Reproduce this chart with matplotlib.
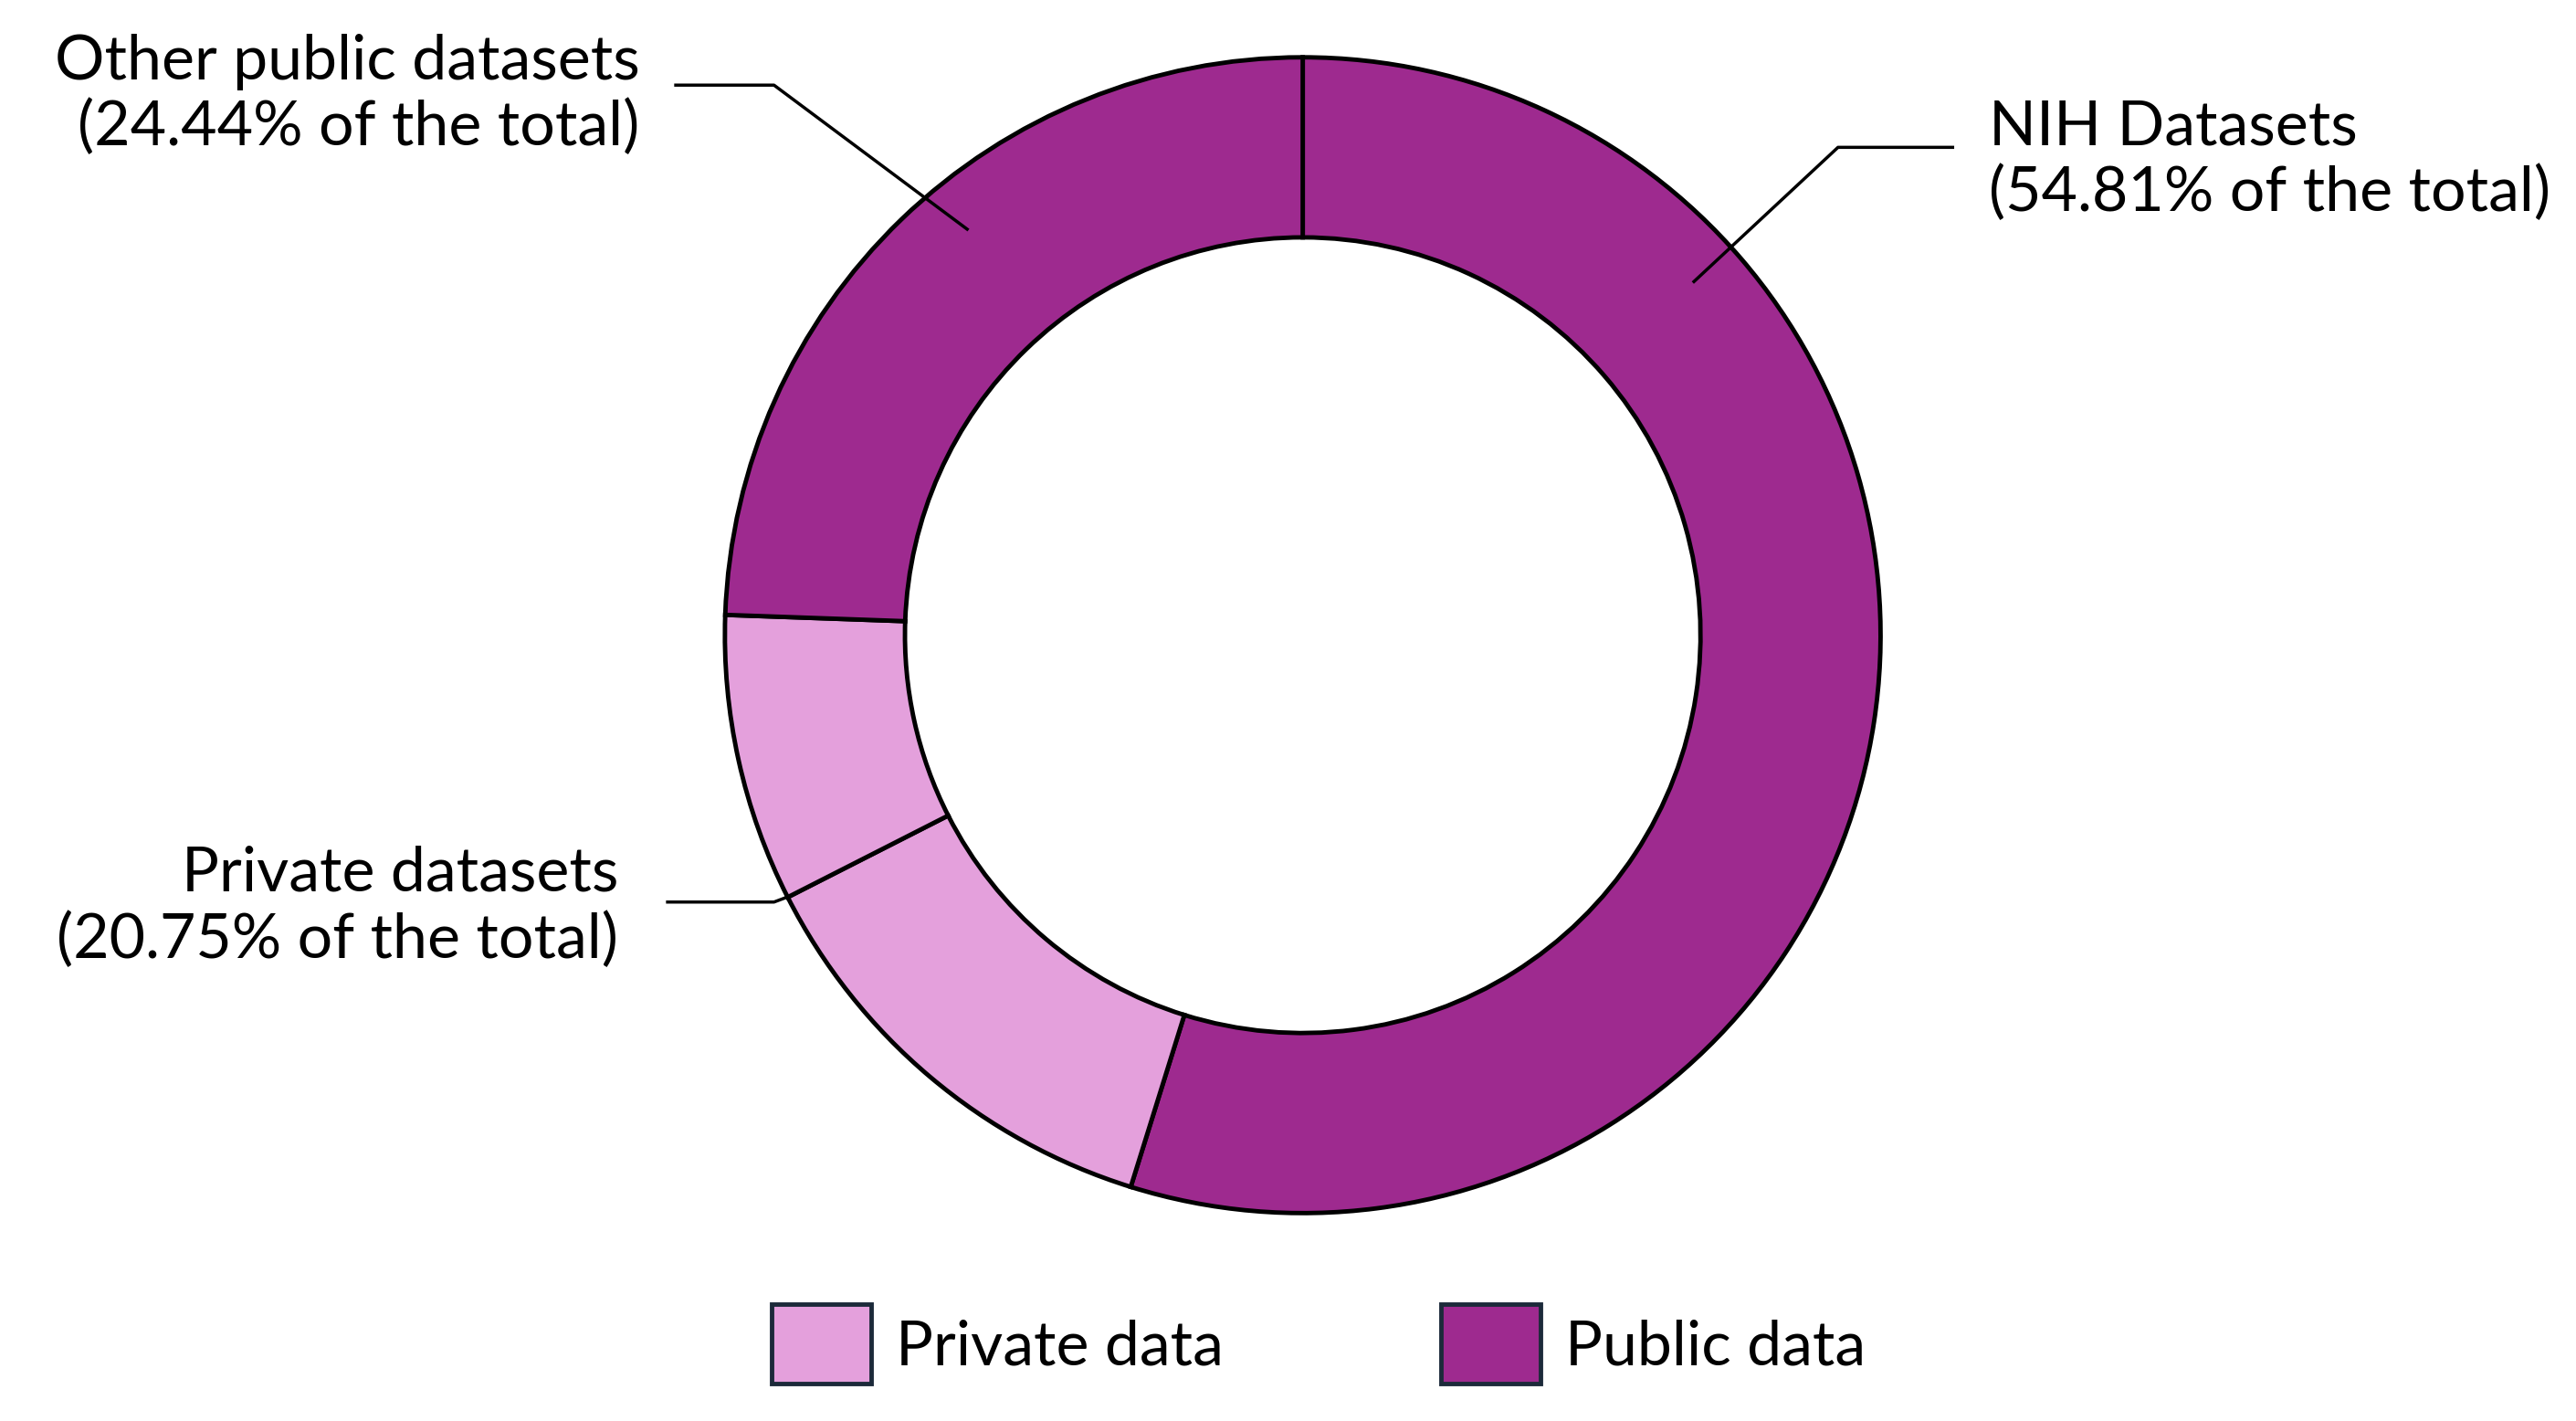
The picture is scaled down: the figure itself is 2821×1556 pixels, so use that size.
import matplotlib
matplotlib.use("Agg")
import matplotlib.pyplot as plt
from matplotlib.patches import Patch

plt.rcParams['font.family'] = ['Lato', 'DejaVu Sans']

# data (percent of total), clockwise from top
wedge_values = [54.81, 12.70, 8.05, 24.44]
wedge_groups = ["Public data", "Private data", "Private data", "Public data"]
group_colors = {"Private data": "#E4A0DC", "Public data": "#9E2A8F"}
labels = ["NIH Datasets\n(54.81% of the total)",
          "Private datasets\n(20.75% of the total)",
          "Other public datasets\n(24.44% of the total)"]

W, H = 1568, 868
fig = plt.figure(figsize=(28.21, 15.56), dpi=100)
ax = fig.add_axes([0, 0, 1, 1])

cx, cy, R = 793, 388, 353
ax.pie(wedge_values, colors=[group_colors[g] for g in wedge_groups],
       startangle=-90, counterclock=True, center=(cx, cy), radius=R,
       wedgeprops=dict(width=110, edgecolor='black', linewidth=3.5),
       frame=True)
ax.set_xlim(0, W); ax.set_ylim(H, 0); ax.set_aspect('equal'); ax.axis('off')

fs = 49
lw = 2.5
# NIH
ax.plot([1190, 1120, 1032], [90, 90, 172], color='black', lw=lw)
ax.text(1212, 98, labels[0], fontsize=fs, ha='left', va='center', linespacing=1.2)
# Other public
ax.plot([410, 470, 588], [52, 52, 140], color='black', lw=lw)
ax.text(388, 58, labels[2], fontsize=fs, ha='right', va='center', linespacing=1.2)
# Private
ax.plot([405, 470, 478], [551, 551, 548], color='black', lw=lw)
ax.text(375, 554, labels[1], fontsize=fs, ha='right', va='center', linespacing=1.2)

handles = [Patch(facecolor=group_colors[g], edgecolor='#1c2a3a', linewidth=3.5, label=g)
           for g in ["Private data", "Public data"]]
fig.legend(handles=handles, loc='center', bbox_to_anchor=(0.512, 1 - 821 / H), ncol=2,
           frameon=False, fontsize=fs, handlelength=1.6, handleheight=1.6,
           columnspacing=3.5, handletextpad=0.4)

fig.savefig("out.png", dpi=100)
